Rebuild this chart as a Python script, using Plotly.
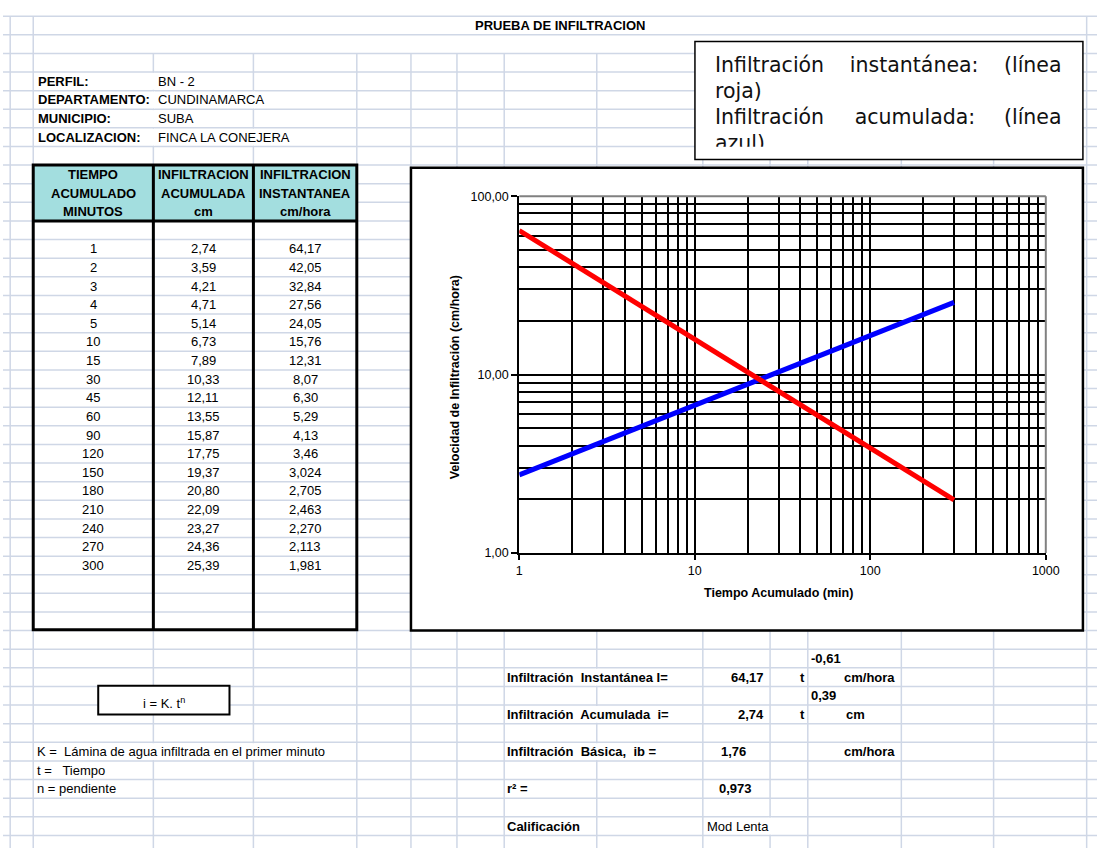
import plotly.graph_objects as go

W, H = 1111, 855

# ---------------- datos de la prueba ----------------
tiempo_min = [1, 2, 3, 4, 5, 10, 15, 30, 45, 60, 90, 120, 150, 180, 210, 240, 270, 300]
infiltracion_acumulada_cm = [2.74, 3.59, 4.21, 4.71, 5.14, 6.73, 7.89, 10.33, 12.11, 13.55,
                             15.87, 17.75, 19.37, 20.80, 22.09, 23.27, 24.36, 25.39]
infiltracion_instantanea_cmh = [64.17, 42.05, 32.84, 27.56, 24.05, 15.76, 12.31, 8.07, 6.30, 5.29,
                                4.13, 3.46, 3.024, 2.705, 2.463, 2.270, 2.113, 1.981]
decimales_instantanea = [2] * 12 + [3] * 6

eje_x_ticks = [1, 10, 100, 1000]
eje_x_etiquetas = ["1", "10", "100", "1000"]
eje_y_ticks = [1, 10, 100]
eje_y_etiquetas = ["1,00", "10,00", "100,00"]

perfil_campos = ["PERFIL:", "DEPARTAMENTO:", "MUNICIPIO:", "LOCALIZACION:"]
perfil_valores = ["BN - 2", "CUNDINAMARCA", "SUBA", "FINCA LA CONEJERA"]

encabezados = [["TIEMPO", "ACUMULADO", "MINUTOS"],
               ["INFILTRACION", "ACUMULADA", "cm"],
               ["INFILTRACION", "INSTANTANEA", "cm/hora"]]

k_instantanea, n_instantanea = 64.17, -0.61
k_acumulada, n_acumulada = 2.74, 0.39
infiltracion_basica = 1.76
r_cuadrado = 0.973
calificacion = "Mod Lenta"

# ---------------- geometría de la hoja ----------------
ARIAL = "Liberation Sans, Arial, sans-serif"
GRID = "#CFD7E6"
CIAN = "#A3DEDF"

ROW0, RH = 9.3, 18.93
COLS = [7.3, 30.7, 152.7, 254.3, 359.3, 414.3, 461, 509, 603, 710.7, 779, 817.3, 912.3, 1006, 1100.5]


def ry(k):
    return ROW0 + RH * k


def fx(x):
    return x / W


def fy(y):
    return 1 - y / H


def num(v, d=2):
    return f"{v:.{d}f}".replace(".", ",")


shapes = []
annotations = []


def line(x0, y0, x1, y1, color, width, layer="below"):
    shapes.append(dict(type="line", xref="paper", yref="paper",
                       x0=fx(x0), y0=fy(y0), x1=fx(x1), y1=fy(y1),
                       line=dict(color=color, width=width), layer=layer))


def rect(x0, y0, x1, y1, fill="rgba(0,0,0,0)", color="rgba(0,0,0,0)", width=0, layer="below"):
    shapes.append(dict(type="rect", xref="paper", yref="paper",
                       x0=fx(x0), y0=fy(y1), x1=fx(x1), y1=fy(y0),
                       fillcolor=fill, line=dict(color=color, width=width), layer=layer))


def txt(x, y, s, anchor="left", bold=False, size=13, family=ARIAL, angle=0):
    annotations.append(dict(xref="paper", yref="paper", x=fx(x), y=fy(y), text=s,
                            xanchor=anchor, yanchor="middle", showarrow=False, textangle=angle,
                            font=dict(family=family, size=size, color="black",
                                      weight="bold" if bold else "normal")))


# cuadrícula de la hoja
for k in range(45):
    line(0, ry(k), W, ry(k), GRID, 1.5)
for x in COLS:
    top = ry(0) if x in (7.3, 30.7, 1100.5) else ry(2)
    line(x, top, x, H, GRID, 1.5)


# celdas con texto desbordado ocultan la línea vertical
def ocultar(x, k):
    rect(x - 1.6, ry(k) + 0.9, x + 1.6, ry(k + 1) - 0.9, fill="white")


for k in (3, 4, 5, 6):
    ocultar(152.7, k)
for k in (4, 6):
    ocultar(254.3, k)
ocultar(152.7, 39)
ocultar(254.3, 39)
for k in (35, 37, 39):
    ocultar(603, k)
ocultar(779, 43)

# tabla
rect(30.7, ry(8), 359.3, ry(11), fill=CIAN)
rect(30.7, ry(8), 359.3, 633, color="black", width=3)
line(152.7, ry(8), 152.7, 633, "black", 3)
line(254.3, ry(8), 254.3, 633, "black", 3)
line(30.7, ry(11), 359.3, ry(11), "black", 3)

# marco del gráfico y cuadro de texto
rect(414.3, 163.3, 1096.7, 634, fill="white", color="black", width=2.5)
rect(702.7, 35, 1096.7, 155, fill="white", color="black", width=1.5)
rect(96.7, 690, 230, 719.3, fill="white", color="black", width=2)

# borde gris superior y derecho del área de trazado
shapes.append(dict(type="line", xref="x domain", yref="y domain", x0=1, x1=1, y0=0, y1=1,
                   line=dict(color="#808080", width=2), layer="above"))
shapes.append(dict(type="line", xref="x domain", yref="y domain", x0=0, x1=1, y0=1, y1=1,
                   line=dict(color="#808080", width=2), layer="above"))

# ---------------- textos de la hoja ----------------
txt(565.8, 19, "PRUEBA DE INFILTRACION", anchor="center", bold=True)

for i, (campo, valor) in enumerate(zip(perfil_campos, perfil_valores)):
    yc = ry(3 + i + 0.5)
    txt(34, yc, campo, bold=True)
    txt(155.5, yc, valor)

centros = [91.7, 203.5, 306.8]
for c, lineas in zip(centros, encabezados):
    for j, s in enumerate(lineas):
        txt(c, ry(8 + j + 0.5), s, anchor="center", bold=True)

for i, (t, a, v, d) in enumerate(zip(tiempo_min, infiltracion_acumulada_cm,
                                     infiltracion_instantanea_cmh, decimales_instantanea)):
    yc = ry(12 + i + 0.5)
    txt(centros[0], yc, str(t), anchor="center")
    txt(centros[1], yc, num(a), anchor="center")
    txt(centros[2], yc, num(v, d), anchor="center")

txt(163.3, ry(37) - 2, "i = K. t<sup>n</sup>", anchor="center")
txt(33, ry(39.5), "K =\u00a0 Lámina de agua infiltrada en el primer minuto")
txt(33, ry(40.5), "t =\u00a0\u00a0 Tiempo")
txt(33, ry(41.5), "n = pendiente")

txt(819, ry(34.5), num(n_instantanea), bold=True)
txt(510, ry(35.5), "Infiltración\u00a0 Instantánea I=", bold=True)
txt(775, ry(35.5), num(k_instantanea), anchor="right", bold=True)
txt(811.7, ry(35.5), "t", anchor="center", bold=True)
txt(908, ry(35.5), "cm/hora", anchor="right", bold=True)

txt(819, ry(36.5), num(n_acumulada), bold=True)
txt(510, ry(37.5), "Infiltración\u00a0 Acumulada\u00a0 i=", bold=True)
txt(775, ry(37.5), num(k_acumulada), anchor="right", bold=True)
txt(811.7, ry(37.5), "t", anchor="center", bold=True)
txt(866, ry(37.5), "cm", anchor="center", bold=True)

txt(510, ry(39.5), "Infiltración\u00a0 Básica,\u00a0 ib =", bold=True)
txt(742, ry(39.5), num(infiltracion_basica), anchor="center", bold=True)
txt(908, ry(39.5), "cm/hora", anchor="right", bold=True)

txt(510, ry(41.5), "r² =", bold=True)
txt(744, ry(41.5), num(r_cuadrado, 3), anchor="center", bold=True)

txt(510, ry(43.5), "Calificación", bold=True)
txt(746.5, ry(43.5), calificacion, anchor="center")

# títulos de ejes del gráfico
txt(459, 376.5, "Velocidad de Infiltración (cm/hora)", anchor="center", bold=True, size=12.5, angle=-90)
txt(787.5, 596, "Tiempo Acumulado (min)", anchor="center", bold=True, size=12.5)

# ---------------- figura ----------------
fig = go.Figure()

fig.add_trace(go.Scatter(x=tiempo_min, y=infiltracion_acumulada_cm, mode="lines",
                         line=dict(color="#0000FF", width=5), name="Infiltración acumulada",
                         hoverinfo="skip"))
fig.add_trace(go.Scatter(x=tiempo_min, y=infiltracion_instantanea_cmh, mode="lines",
                         line=dict(color="#FF0000", width=5), name="Infiltración instantánea",
                         hoverinfo="skip"))

# leyenda en texto justificado dentro del cuadro (recortada por el área del subgráfico)
ley_x = [723, 860, 1075, 723, 723, 865, 1075, 723]
ley_y = [61, 61, 61, 87.5, 114, 114, 114, 140.5]
ley_t = ["Infiltración", "instantánea:", "(línea", "roja)",
         "Infiltración", "acumulada:", "(línea", "azul)"]
ley_pos = ["middle right", "middle right", "middle left", "middle right",
           "middle right", "middle right", "middle left", "middle right"]
fig.add_trace(go.Scatter(x=ley_x, y=ley_y, mode="text", text=ley_t, textposition=ley_pos,
                         textfont=dict(family="DejaVu Sans", size=20.5, color="#111111"),
                         xaxis="x2", yaxis="y2", cliponaxis=True, hoverinfo="skip"))

menores = [m * 10 ** e for e in range(3) for m in range(2, 10)]
eje_comun = dict(type="log", tickmode="array", ticks="outside", tickwidth=2, tickcolor="black",
                 showline=True, linecolor="black", linewidth=2,
                 showgrid=True, gridcolor="black", gridwidth=2, zeroline=False,
                 tickfont=dict(family=ARIAL, size=12.5, color="black"), fixedrange=True)

fig.update_layout(
    width=W, height=H,
    margin=dict(l=0, r=0, t=0, b=0),
    paper_bgcolor="white", plot_bgcolor="white",
    showlegend=False,
    shapes=shapes,
    annotations=annotations,
    xaxis=dict(eje_comun, domain=[fx(524.3), fx(1059)], range=[0, 3],
               tickvals=eje_x_ticks, ticktext=eje_x_etiquetas, ticklen=5, anchor="y",
               minor=dict(tickmode="array", tickvals=menores, showgrid=True,
                          gridcolor="black", gridwidth=2, ticks="")),
    yaxis=dict(eje_comun, domain=[fy(555), fy(192.3)], range=[0, 2],
               tickvals=eje_y_ticks, ticktext=eje_y_etiquetas, ticklen=6, anchor="x",
               minor=dict(tickmode="array", tickvals=[v for v in menores if v < 100], showgrid=True,
                          gridcolor="black", gridwidth=2, ticks="")),
    xaxis2=dict(domain=[fx(704.5), fx(1095)], range=[704.5, 1095], visible=False,
                anchor="y2", fixedrange=True),
    yaxis2=dict(domain=[fy(142), fy(37)], range=[142, 37], visible=False,
                anchor="x2", fixedrange=True),
)

fig.write_html(
    "out.html",
    config={"displayModeBar": False},
    post_script="document.body.style.margin='0';document.body.style.overflow='hidden';",
)
